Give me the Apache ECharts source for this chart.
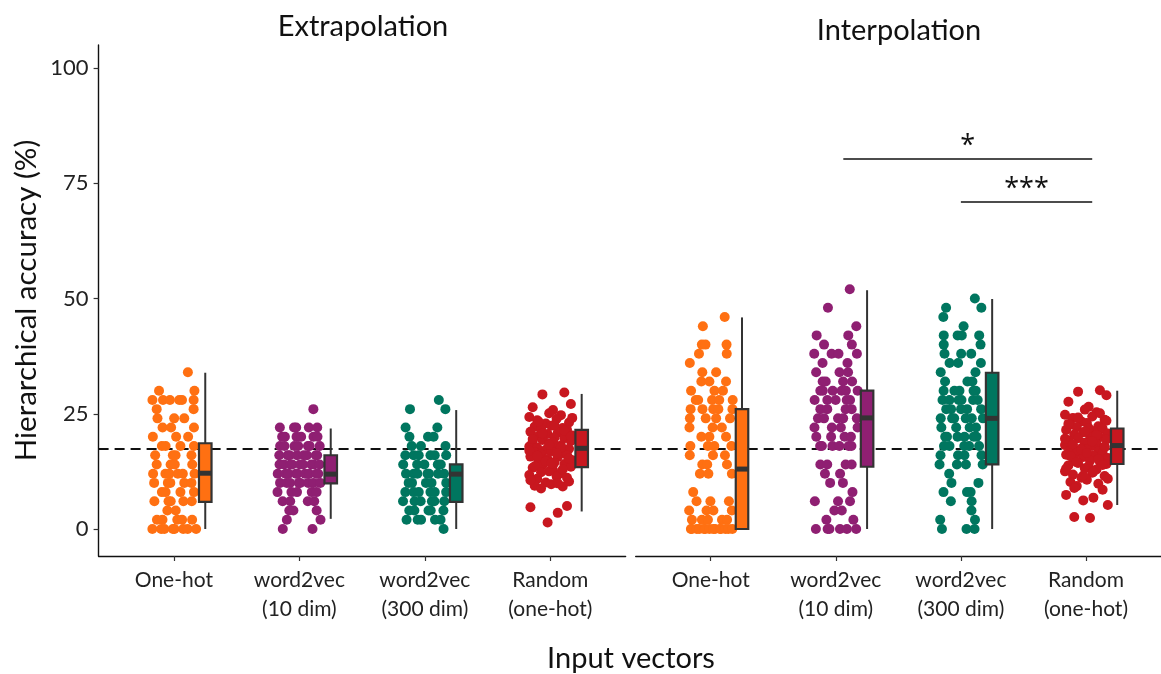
<!DOCTYPE html>
<html>
<head>
<meta charset="utf-8">
<script src="https://cdn.jsdelivr.net/npm/echarts@6/dist/echarts.min.js"></script>
<style>
  html, body { margin: 0; padding: 0; background: #fff; }
  #chart { width: 1161px; height: 674px; }
</style>
</head>
<body>
<div id="chart"></div>
<script>
const categories = ['One-hot', 'word2vec\n(10 dim)', 'word2vec\n(300 dim)', 'Random\n(one-hot)']
const panels = ['Extrapolation', 'Interpolation']
const colors = ['#ff7012', '#8f1f72', '#00765f', '#c8171f']
const yTicks = [0, 25, 50, 75, 100]
const chanceLevel = 17.4

// dots on discrete levels: [value, count]
const extraOneHot = [[34, 1], [30, 2], [28, 6], [26, 2], [24, 3], [22, 3], [20, 3], [18, 4], [16, 4],
  [14, 4], [12, 6], [10, 5], [8, 4], [6, 5], [4, 2], [2, 5], [0, 8]]
const extraW2v10 = [[26, 1], [22, 5], [20, 6], [18, 7], [16, 8], [14, 9], [12, 9], [10, 8], [8, 5],
  [6, 4], [4, 3], [2, 2], [0, 2]]
const extraW2v300 = [[28, 1], [26, 2], [22, 2], [20, 3], [18, 3], [16, 6], [14, 5], [12, 7], [10, 5],
  [8, 6], [6, 6], [4, 5], [2, 5], [0, 1]]
const interOneHot = [[46, 1], [44, 1], [40, 3], [38, 2], [36, 1], [34, 2], [32, 3], [30, 3], [28, 5],
  [26, 5], [24, 4], [22, 3], [20, 3], [18, 4], [16, 3], [14, 3], [12, 3], [8, 1], [6, 3], [4, 4],
  [2, 5], [0, 14]]
const interW2v10 = [[52, 1], [48, 1], [44, 1], [42, 2], [40, 2], [38, 4], [36, 2], [34, 3], [32, 4],
  [30, 6], [28, 5], [26, 4], [24, 5], [22, 4], [20, 4], [18, 6], [14, 4], [12, 2], [10, 2], [8, 1],
  [6, 3], [4, 2], [2, 2], [0, 6]]
const interW2v300 = [[50, 1], [48, 2], [46, 1], [44, 1], [42, 4], [40, 2], [38, 3], [36, 3], [34, 2],
  [32, 3], [30, 5], [28, 6], [26, 5], [24, 6], [22, 4], [20, 6], [18, 5], [16, 4], [14, 4], [12, 1],
  [10, 2], [8, 3], [6, 2], [4, 1], [2, 2], [0, 3]]

// random vectors give non-discrete accuracies
const extraRandom = [29.6, 29.2, 27.1, 26.4, 25.8, 25.1, 24.7, 24.3, 23.9, 23.6, 23.1, 22.9, 22.4, 22.2,
  21.9, 21.7, 21.5, 21.1, 20.9, 20.6, 20.3, 20.2, 19.8, 19.7, 19.3, 19.1, 18.9, 18.6, 18.5, 18.1, 17.9,
  17.8, 17.6, 17.4, 17.2, 16.9, 16.7, 16.5, 16.2, 16.0, 15.7, 15.6, 15.2, 14.9, 14.6, 14.4, 14.1, 13.9,
  13.5, 13.3, 12.8, 12.5, 12.1, 11.7, 11.4, 10.9, 10.3, 10.1, 9.7, 9.4, 9.2, 8.8, 5.0, 4.7, 3.5, 1.4,
  24.1, 23.3, 22.6, 21.3, 20.7, 20.1, 19.5, 18.8, 18.3, 17.7, 17.0, 16.4, 15.9, 15.3, 14.7, 14.2, 13.6,
  12.9, 12.3, 11.1, 10.6, 9.9]
const interRandom = [30.1, 29.8, 29.0, 27.6, 26.5, 25.9, 25.3, 24.8, 24.4, 24.1, 23.7, 23.3, 23.0, 22.6,
  22.3, 22.1, 21.8, 21.5, 21.2, 21.0, 20.7, 20.5, 20.2, 19.9, 19.7, 19.4, 19.2, 18.9, 18.7, 18.5, 18.2,
  18.0, 17.8, 17.7, 17.5, 17.3, 17.1, 16.8, 16.6, 16.4, 16.1, 15.9, 15.6, 15.4, 15.1, 14.8, 14.6, 14.3,
  14.1, 13.8, 13.6, 13.2, 12.9, 12.5, 12.2, 11.8, 11.5, 11.1, 10.7, 10.2, 9.8, 9.3, 8.5, 7.4, 6.8, 6.2,
  5.2, 2.6, 2.4, 25.1, 24.2, 23.5, 22.8, 21.9, 21.1, 20.4, 19.6, 19.0, 18.4, 17.9, 17.2, 16.5, 15.8,
  15.2, 14.5, 13.9, 13.1, 12.4, 11.6, 10.9, 8.9]

// box stats per category: [min, q1, median, q3, max]
const extraBoxes = [[0, 5.9, 12.1, 18.6, 33.9], [2.2, 9.9, 11.9, 16, 21.8], [0, 5.9, 11.9, 14, 25.8], [3.8, 13.4, 17.5, 21.5, 29.3]]
const interBoxes = [[0, 0, 13, 26, 45.9], [0, 13.5, 24.1, 30, 51.8], [0, 14, 24, 33.9, 49.9], [5.2, 14.1, 18.1, 21.8, 30]]

// significance brackets in the interpolation panel: [from, to, y, label]
const sigBars = [[1.06, 3.05, 80.3, '*'], [2.0, 3.05, 71, '***']]

const FONT = 'Lato'
const JITTER_W = 0.18
const BOX_SHIFT = 0.25
const BOX_W = 0.1
// fixed spread pattern used to place dots sideways
const cycle = [0.62, -0.35, 0.91, -0.78, 0.12, -0.05, 0.47, -0.93, 0.28, -0.58, 0.83, -0.2, 0.04,
  -0.69, 0.55, -0.41, 0.74, -0.88, 0.33, -0.12, 0.97, -0.52, 0.18]

function rowsToPoints(rows, cat) {
  let pts = []
  let k = 0
  rows.forEach(r => {
    const [v, n] = r
    for (let i = 0; i < n; i++) {
      const c = cycle[k++ % cycle.length]
      let off
      if (n === 1) off = c * JITTER_W
      else {
        const step = 2 * JITTER_W / n
        off = -JITTER_W + step * (i + 0.5) + c * step * 0.45
      }
      pts.push([cat + off, v])
    }
  })
  return pts
}
function valuesToPoints(vals, cat) {
  return vals.map((v, i) => [cat + cycle[i % cycle.length] * JITTER_W, v])
}

const dotsByPanel = [
  [rowsToPoints(extraOneHot, 0), rowsToPoints(extraW2v10, 1), rowsToPoints(extraW2v300, 2), valuesToPoints(extraRandom, 3)],
  [rowsToPoints(interOneHot, 0), rowsToPoints(interW2v10, 1), rowsToPoints(interW2v300, 2), valuesToPoints(interRandom, 3)]
]
const boxesByPanel = [extraBoxes, interBoxes]

function renderBox(params, api) {
  const cat = api.value(0)
  const x = cat + BOX_SHIFT
  const pMin = api.coord([x, api.value(1)])
  const pQ1 = api.coord([x, api.value(2)])
  const pMed = api.coord([x, api.value(3)])
  const pQ3 = api.coord([x, api.value(4)])
  const pMax = api.coord([x, api.value(5)])
  const half = api.size([BOX_W, 0])[0] / 2
  const cx = pMin[0]
  const stroke = '#333'
  return {
    type: 'group',
    children: [
      {type: 'line', shape: {x1: cx, y1: pMin[1], x2: cx, y2: pQ1[1]}, style: {stroke, lineWidth: 2}},
      {type: 'line', shape: {x1: cx, y1: pQ3[1], x2: cx, y2: pMax[1]}, style: {stroke, lineWidth: 2}},
      {type: 'rect', shape: {x: cx - half, y: pQ3[1], width: half * 2, height: pQ1[1] - pQ3[1]},
        style: {fill: colors[cat], stroke, lineWidth: 2.2}},
      {type: 'line', shape: {x1: cx - half, y1: pMed[1], x2: cx + half, y2: pMed[1]}, style: {stroke, lineWidth: 5}}
    ]
  }
}

const gridLeft = [98.6, 635.7]
const grids = gridLeft.map(l => ({left: l, top: 45, width: 527, height: 511}))

const xAxes = grids.map((g, i) => ({
  gridIndex: i,
  type: 'value',
  min: -0.6,
  max: 3.6,
  splitLine: {show: false},
  axisLine: {show: true, onZero: false, lineStyle: {color: '#111', width: 1.4}},
  axisTick: {show: true, customValues: [0, 1, 2, 3], length: 5, lineStyle: {color: '#333', width: 1.2}},
  axisLabel: {
    customValues: [0, 1, 2, 3],
    formatter: v => categories[Math.round(v)],
    fontFamily: FONT, fontSize: 21, color: '#222', lineHeight: 29, margin: 10
  }
}))

const yAxes = grids.map((g, i) => ({
  gridIndex: i,
  type: 'value',
  min: -5.86,
  max: 105,
  splitLine: {show: false},
  axisLine: {show: i === 0, onZero: false, lineStyle: {color: '#111', width: 1.4}},
  axisTick: {show: i === 0, customValues: yTicks, length: 5, lineStyle: {color: '#333', width: 1.2}},
  axisLabel: {show: i === 0, customValues: yTicks, fontFamily: FONT, fontSize: 22, color: '#222', margin: 10},
  name: i === 0 ? 'Hierarchical accuracy (%)' : '',
  nameLocation: 'middle',
  nameGap: 57,
  nameTextStyle: {fontFamily: FONT, fontSize: 29.5, color: '#111'}
}))

let series = []
dotsByPanel.forEach((groups, p) => {
  // chance level, drawn under dots and boxes
  series.push({
    type: 'line',
    xAxisIndex: p, yAxisIndex: p,
    data: [],
    z: 1,
    markLine: {
      silent: true,
      z: 1,
      symbol: 'none',
      lineStyle: {color: '#111', width: 2, type: [10, 6]},
      label: {show: false},
      data: [{yAxis: chanceLevel}]
    }
  })
  groups.forEach((pts, c) => {
    series.push({
      type: 'scatter',
      xAxisIndex: p, yAxisIndex: p,
      symbolSize: 10,
      itemStyle: {color: colors[c], opacity: 1},
      data: pts,
      silent: true,
      z: 2
    })
  })
  series.push({
    type: 'custom',
    xAxisIndex: p, yAxisIndex: p,
    renderItem: renderBox,
    data: boxesByPanel[p].map((b, c) => [c, ...b]),
    encode: {x: 0, y: [1, 2, 3, 4, 5]},
    z: 3
  })
})

series.push({
  type: 'line',
  xAxisIndex: 1, yAxisIndex: 1,
  data: [],
  markLine: {
    silent: true,
    symbol: 'none',
    lineStyle: {color: '#111', width: 1.6, type: 'solid'},
    label: {show: true, position: 'middle', distance: -1, fontFamily: 'Open Sans', fontSize: 27, color: '#111'},
    data: sigBars.map(s => [
      {coord: [s[0], s[2]], label: {formatter: s[3]}},
      {coord: [s[1], s[2]]}
    ])
  }
})

const titleStyle = {fontFamily: FONT, fontSize: 29, fill: '#111', textAlign: 'center', textVerticalAlign: 'middle'}
const chart = echarts.init(document.getElementById('chart'))
chart.setOption({
  animation: false,
  backgroundColor: '#fff',
  grid: grids,
  xAxis: xAxes,
  yAxis: yAxes,
  series: series,
  graphic: [
    {type: 'text', x: 363, y: 27, style: Object.assign({text: panels[0]}, titleStyle)},
    {type: 'text', x: 899, y: 31, style: Object.assign({text: panels[1]}, titleStyle)},
    {type: 'text', x: 631, y: 659, style: Object.assign({text: 'Input vectors', fontSize: 29.5}, titleStyle)}
  ]
})
</script>
</body>
</html>
